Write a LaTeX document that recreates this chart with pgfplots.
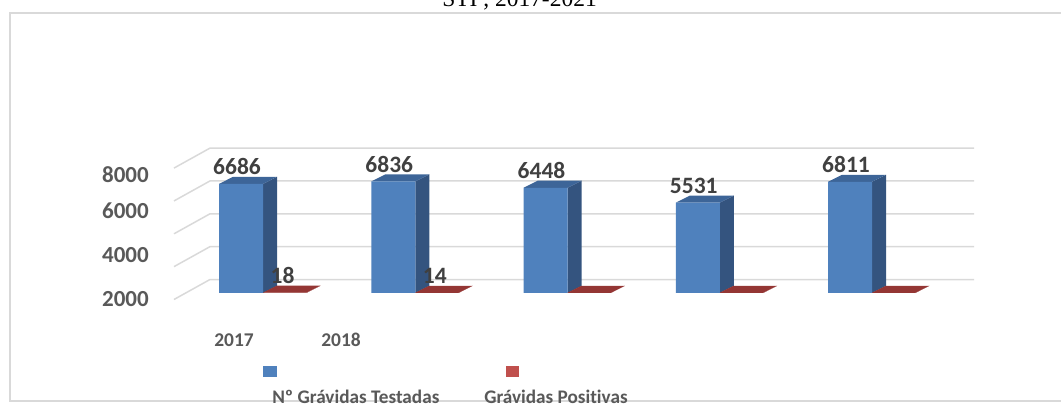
\documentclass[border=0pt]{standalone}
\usepackage{pgfplots}
\pgfplotsset{compat=1.18}
\usepackage{pgfplotstable}
\usepackage{fontspec}
\setmainfont[Ligatures=NoCommon]{Carlito}
\newfontfamily\titlefont{Liberation Serif}
\definecolor{bfront}{HTML}{4F81BD}
\definecolor{bside}{HTML}{34547F}
\definecolor{btop}{HTML}{3D6598}
\definecolor{rtop}{HTML}{943634}
\definecolor{rleg}{HTML}{C0504D}
\definecolor{gridc}{HTML}{D9D9D9}
\definecolor{txt}{HTML}{404040}
\definecolor{lab}{HTML}{595959}
\newlength\px \setlength\px{0.75pt}

\pgfplotstableread{
x tested pos
0 6686 18
1 6836 14
2 6448 10
3 5531 10
4 6811 10
}\data

% oblique 3D faces (side and top) of a bar centred at #1 with value #2, half width #3
\newcommand\cube[5]{%
  \pgfmathsetmacro\xl{#1-#3}%
  \pgfmathsetmacro\xr{#1+#3}%
  \pgfmathsetmacro\xlb{#1-#3+0.092}%
  \pgfmathsetmacro\xrb{#1+#3+0.092}%
  \pgfmathsetmacro\vb{#2+430}%
  \addplot[fill=#4, draw=none, forget plot] coordinates {(\xr,0) (\xrb,430) (\xrb,\vb) (\xr,#2)};
  \addplot[fill=#5, draw=none, forget plot] coordinates {(\xl,#2) (\xr,#2) (\xrb,\vb) (\xlb,\vb)};
}

\begin{document}
\begin{tikzpicture}
\begin{axis}[
  scale only axis,
  width=1061\px, height=407\px,
  xmin=-1.58292, xmax=5.38588,
  ymin=-6985.3, ymax=17953.4,
  clip=false,
  axis line style={draw=none},
  major tick length=0pt,
  /pgf/number format/1000 sep={},
  /pgf/number format/assume math mode=true,
  ytick={-398,2298,5025,7261},
  yticklabels={2000,4000,6000,8000},
  yticklabel style={anchor=east, inner sep=0pt, xshift=149\px,
    font=\fontsize{17.25}{20}\selectfont\bfseries, text=lab},
  xtick={-0.046,0.657},
  xticklabels={2017,2018},
  xticklabel style={anchor=base, inner sep=0pt, yshift=60\px,
    font=\fontsize{14.6}{16}\selectfont\bfseries, text=lab},
]
% back wall / side wall gridlines
\addplot[gridc, line width=1.5\px, forget plot] coordinates {(-0.4401,-398) (-0.2036,827) (4.8144,827)};
\addplot[gridc, line width=1.5\px, forget plot] coordinates {(-0.4401,1615) (-0.2036,2840) (4.8144,2840)};
\addplot[gridc, line width=1.5\px, forget plot] coordinates {(-0.4401,3628) (-0.2036,4853) (4.8144,4853)};
\addplot[gridc, line width=1.5\px, forget plot] coordinates {(-0.4401,5641) (-0.2036,6866) (4.8144,6866)};
\addplot[gridc, line width=1.5\px, forget plot] coordinates {(-0.4401,7654) (-0.2036,8879) (4.8144,8879)};

% 3D faces
\cube{0}{6686}{0.1445}{bside}{btop}
\cube{1}{6836}{0.1445}{bside}{btop}
\cube{2}{6448}{0.1445}{bside}{btop}
\cube{3}{5531}{0.1445}{bside}{btop}
\cube{4}{6811}{0.1445}{bside}{btop}
\cube{0.2857}{18}{0.1429}{rtop}{rtop}
\cube{1.2857}{14}{0.1429}{rtop}{rtop}
\cube{2.2857}{10}{0.1429}{rtop}{rtop}
\cube{3.2857}{10}{0.1429}{rtop}{rtop}
\cube{4.2857}{10}{0.1429}{rtop}{rtop}

% front faces
\addplot[ybar, bar width=44\px, bar shift=0pt, fill=bfront, draw=none,
  nodes near coords,
  nodes near coords style={font=\fontsize{17.6}{20}\selectfont\bfseries, text=txt,
    anchor=base, inner sep=0pt, xshift=-4\px, yshift=9\px}]
  table[x=x, y=tested] {\data};
\addplot[ybar, bar width=43\px, bar shift=43.5\px, fill=rtop, draw=none]
  table[x=x, y=pos] {\data};
% labels of the positive series (2017, 2018 only)
\addplot[ybar, bar width=0pt, bar shift=43.5\px, draw=none, fill=none,
  skip coords between index={2}{5},
  nodes near coords,
  nodes near coords style={font=\fontsize{17.6}{20}\selectfont\bfseries, text=txt,
    anchor=base, inner sep=0pt, xshift=41.5\px, yshift=9\px}]
  table[x=x, y=pos] {\data};
\end{axis}
% chart border
\draw[gridc, line width=1.5\px] (1070\px,394\px) -- (10\px,394\px) -- (10\px,6\px) -- (1070\px,6\px);
% title (cut by the page edge as in the reference)
\node[anchor=base, inner sep=0pt, font=\titlefont\fontsize{17.6}{20}\selectfont] at (519.5\px,400\px) {STI , 2017-2021};
% legend
\fill[bfront] (263\px,30\px) rectangle (277\px,41\px);
\fill[rleg] (506\px,30\px) rectangle (519\px,41\px);
\node[anchor=base west, inner sep=0pt, text=lab, font=\fontsize{14.4}{16}\selectfont\bfseries] at (272\px,3\px) {Nº Grávidas Testadas};
\node[anchor=base west, inner sep=0pt, text=lab, font=\fontsize{14.4}{16}\selectfont\bfseries] at (484\px,3\px) {Grávidas Positivas};
\pgfresetboundingbox
\path[use as bounding box] (0,0) rectangle (1061\px,407\px);
\end{tikzpicture}
\end{document}
